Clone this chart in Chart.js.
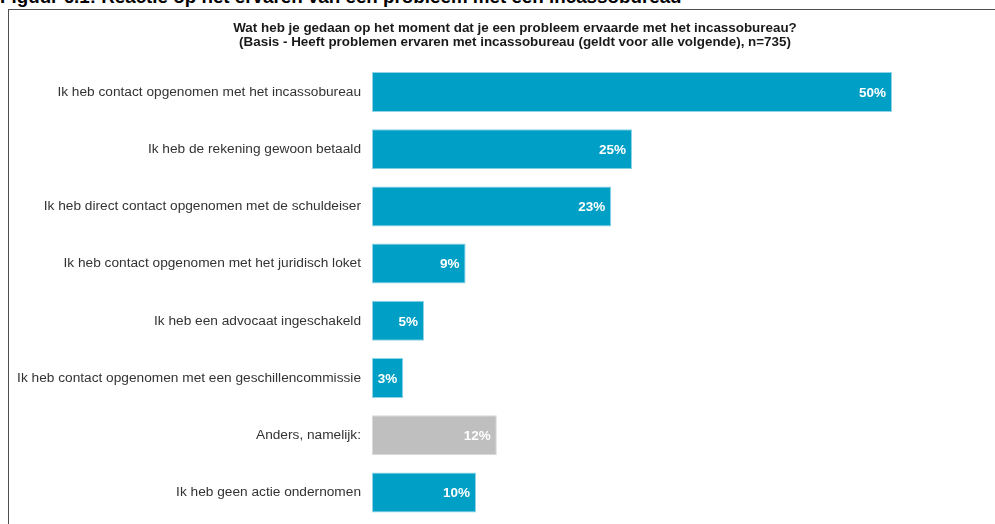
<!DOCTYPE html>
<html lang="nl">
<head>
    <meta charset="UTF-8">
    <title>Reactie op probleem met incassobureau</title>
    <script src="https://cdn.jsdelivr.net/npm/chart.js"></script>
    <style>
        body { margin: 0; background: #fff; overflow: hidden; }
        #heading {
            position: absolute; left: 0; top: -12px;
            font: bold 18.8px "Liberation Sans", Arial, sans-serif;
            line-height: 1;
            color: #000; white-space: nowrap;
        }
        #box {
            position: absolute; left: 8px; top: 9px;
            width: 1020px; height: 530px;
            border-left: 1px solid #4d4d4d; border-top: 1px solid #4d4d4d;
        }
        #myChart { position: absolute; left: 0; top: 0; }
    </style>
</head>
<body>
    <div id="heading">Figuur 6.1: Reactie op het ervaren van een probleem met een incassobureau</div>
    <div id="box">
        <canvas id="myChart" width="1012" height="514"></canvas>
    </div>
    <script>
        const answers = [
            "Ik heb contact opgenomen met het incassobureau",
            "Ik heb de rekening gewoon betaald",
            "Ik heb direct contact opgenomen met de schuldeiser",
            "Ik heb contact opgenomen met het juridisch loket",
            "Ik heb een advocaat ingeschakeld",
            "Ik heb contact opgenomen met een geschillencommissie",
            "Anders, namelijk:",
            "Ik heb geen actie ondernomen"
        ];
        const percentages = [50, 25, 23, 9, 5, 3, 12, 10];
        const titleLines = [
            "Wat heb je gedaan op het moment dat je een probleem ervaarde met het incassobureau?",
            "(Basis - Heeft problemen ervaren met incassobureau (geldt voor alle volgende), n=735)"
        ];

        const blue = "#00A0C6";
        const grey = "#BFBFBF";
        const barColors = answers.map(a => a.startsWith("Anders") ? grey : blue);
        const edgeColors = answers.map(a => a.startsWith("Anders") ? "#d9d9d9" : "#8fd3e6");

        // white percentage inside the end of each bar
        const barLabels = {
            id: "barLabels",
            afterDatasetsDraw(chart) {
                const ctx = chart.ctx;
                const meta = chart.getDatasetMeta(0);
                ctx.save();
                ctx.font = "bold 13.5px 'Liberation Sans', Arial, sans-serif";
                ctx.textAlign = "right";
                ctx.textBaseline = "middle";
                ctx.fillStyle = "#ffffff";
                meta.data.forEach((bar, i) => {
                    ctx.fillText(percentages[i] + "%", bar.x - 6, bar.y + 1);
                });
                ctx.restore();
            }
        };

        new Chart(document.getElementById("myChart"), {
            type: "bar",
            data: {
                labels: answers,
                datasets: [{
                    data: percentages,
                    backgroundColor: barColors,
                    borderColor: edgeColors,
                    borderWidth: 1,
                    borderSkipped: false,
                    barPercentage: 0.7,
                    categoryPercentage: 1.0
                }]
            },
            options: {
                indexAxis: "y",
                responsive: false,
                animation: false,
                layout: { padding: { left: 0, right: 0, top: 0, bottom: 3 } },
                plugins: {
                    legend: { display: false },
                    tooltip: { enabled: false },
                    title: {
                        display: true,
                        text: titleLines,
                        color: "#1a1a1a",
                        font: { family: "'Liberation Sans', Arial, sans-serif", size: 13.4, weight: "bold", lineHeight: 1.06 },
                        padding: { top: 11, bottom: 14 }
                    }
                },
                scales: {
                    x: {
                        display: false,
                        min: 0,
                        max: 62.4
                    },
                    y: {
                        grid: { display: false, drawTicks: false },
                        border: { display: false },
                        afterFit(scale) {
                            scale.width = 363;
                            // labels sit in category centres, no extra room needed above/below
                            scale.paddingTop = 0;
                            scale.paddingBottom = 0;
                        },
                        ticks: {
                            padding: 11,
                            color: "#333333",
                            font: { family: "'Liberation Sans', Arial, sans-serif", size: 13.7 }
                        }
                    }
                }
            },
            plugins: [barLabels]
        });
    </script>
</body>
</html>
